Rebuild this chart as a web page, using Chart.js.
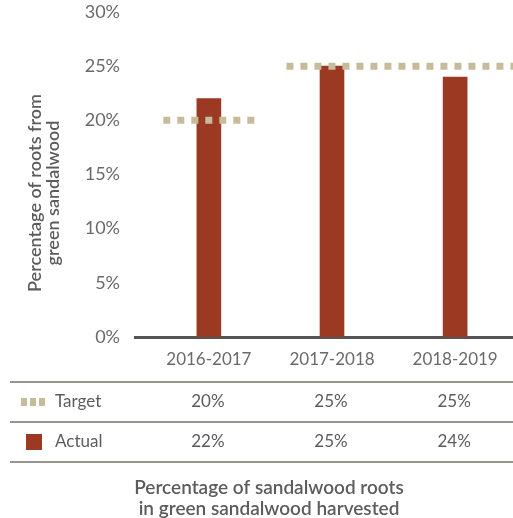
<!DOCTYPE html>
<html>
<head>
<meta charset="utf-8">
<script src="https://cdn.jsdelivr.net/npm/chart.js@4"></script>
<style>
  html, body { margin: 0; padding: 0; background: #ffffff; }
  #wrap { width: 513px; height: 518px; }
</style>
</head>
<body>
<div id="wrap"><canvas id="chart" width="513" height="518"></canvas></div>
<script>
// Harvest years shown along the bottom
const categories = ['2016-2017', '2017-2018', '2018-2019'];
// Share of roots coming from green sandalwood (%)
const targetValues = [20, 25, 25];
const actualValues = [22, 25, 24];
// Y axis tick values (%)
const yTicks = [0, 5, 10, 15, 20, 25, 30];

const yTitleLines = ['Percentage of roots from', 'green sandalwood'];
const footerLines = ['Percentage of sandalwood roots', 'in green sandalwood harvested'];

const BAR_COLOR = '#9b3922';
const TARGET_COLOR = '#c6bc9c';
const TEXT_COLOR = '#5c5c5c';
const TICK_COLOR = '#6a6a6a';
const RULE_COLOR = '#7b7068';
const FONT = 'Lato, "Open Sans", sans-serif';

const X_MIN = -0.6;
const X_MAX = 2.47;

// Target segments: each category gets a dashed run of half-width HALF,
// consecutive equal targets are joined into one run.
const HALF = 0.37;
function targetPoints() {
  const pts = [];
  let i = 0;
  while (i < targetValues.length) {
    let j = i;
    while (j + 1 < targetValues.length && targetValues[j + 1] === targetValues[i]) j++;
    if (pts.length) pts.push({ x: i - 0.5, y: null });
    const end = (j === targetValues.length - 1) ? X_MAX : j + HALF;
    pts.push({ x: i - HALF, y: targetValues[i] });
    pts.push({ x: end, y: targetValues[i] });
    i = j + 1;
  }
  return pts;
}

// Draws the legend table beneath the axis, the rotated y title and the footer caption
const tablePlugin = {
  id: 'tablePlugin',
  afterDraw(chart) {
    const ctx = chart.ctx;
    const xs = chart.scales.x;
    const W = chart.width;
    ctx.save();

    // horizontal rules of the table
    ctx.strokeStyle = RULE_COLOR;
    ctx.lineWidth = 1.5;
    [382, 422, 462].forEach(y => {
      ctx.beginPath();
      ctx.moveTo(10, y);
      ctx.lineTo(W, y);
      ctx.stroke();
    });

    // legend swatches
    ctx.fillStyle = TARGET_COLOR;
    [21, 30, 39].forEach(x => ctx.fillRect(x, 398, 6, 8));
    ctx.fillStyle = BAR_COLOR;
    ctx.fillRect(26, 434, 16, 16);

    // row labels + values
    ctx.font = '17px ' + FONT;
    ctx.fillStyle = TEXT_COLOR;
    ctx.textBaseline = 'middle';
    ctx.textAlign = 'left';
    ctx.fillText('Target', 55, 402);
    ctx.fillText('Actual', 55, 442);
    ctx.textAlign = 'center';
    categories.forEach((c, i) => {
      const x = xs.getPixelForValue(i) - 1;
      ctx.fillText(targetValues[i] + '%', x, 402);
      ctx.fillText(actualValues[i] + '%', x, 442);
    });

    // footer caption
    ctx.font = '600 19px ' + FONT;
    ctx.fillStyle = TEXT_COLOR;
    ctx.fillText(footerLines[0], 269, 488);
    ctx.fillText(footerLines[1], 269, 509);

    // rotated y-axis title
    ctx.font = '600 18px ' + FONT;
    ctx.translate(44, 193);
    ctx.rotate(-Math.PI / 2);
    ctx.fillText(yTitleLines[0], 0, -9);
    ctx.fillText(yTitleLines[1], 0, 9);

    ctx.restore();
  }
};

new Chart(document.getElementById('chart'), {
  data: {
    datasets: [
      {
        type: 'line',
        label: 'Target',
        data: targetPoints(),
        borderColor: TARGET_COLOR,
        borderWidth: 7,
        borderDash: [7, 7],
        borderCapStyle: 'butt',
        pointRadius: 0,
        spanGaps: false,
        order: 0
      },
      {
        type: 'bar',
        label: 'Actual',
        data: actualValues.map((v, i) => ({ x: i, y: v })),
        backgroundColor: BAR_COLOR,
        barThickness: 24,
        order: 1
      }
    ]
  },
  options: {
    responsive: false,
    animation: false,
    devicePixelRatio: 1,
    layout: { padding: { left: 0, right: 0, top: 12, bottom: 0 } },
    plugins: {
      legend: { display: false },
      tooltip: { enabled: false }
    },
    scales: {
      x: {
        type: 'linear',
        min: X_MIN,
        max: X_MAX,
        offset: false,
        afterFit(s) { s.height = 181; s.paddingLeft = 0; s.paddingRight = 0; },
        afterBuildTicks(s) { s.ticks = categories.map((c, i) => ({ value: i })); },
        grid: { display: false, drawTicks: false, offset: false },
        border: { display: true, color: '#555555', width: 3 },
        ticks: {
          padding: 12,
          maxRotation: 0,
          autoSkip: false,
          color: TICK_COLOR,
          font: { family: FONT, size: 17 },
          callback: (v) => categories[v] ?? ''
        }
      },
      y: {
        min: 0,
        max: 30,
        afterFit(s) { s.width = 135; s.paddingTop = 0; s.paddingBottom = 0; },
        afterBuildTicks(s) { s.ticks = yTicks.map(v => ({ value: v })); },
        grid: { display: false, drawTicks: false },
        border: { display: false },
        ticks: {
          padding: 15,
          color: TICK_COLOR,
          font: { family: FONT, size: 18 },
          callback: (v) => v + '%'
        }
      }
    }
  },
  plugins: [tablePlugin]
});
</script>
</body>
</html>
